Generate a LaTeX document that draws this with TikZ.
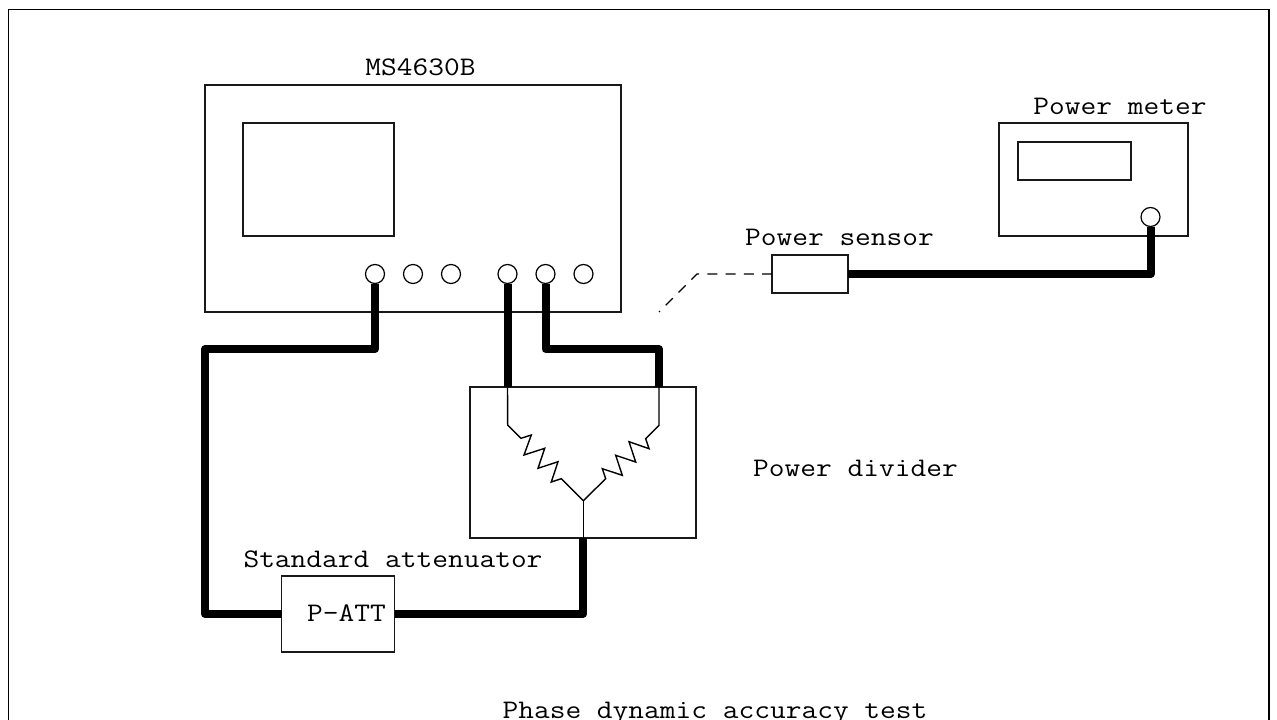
\documentclass[tikz,border=0pt]{standalone}
\usepackage{fontspec}
\newfontfamily\lblfont[FakeStretch=1.14]{Latin Modern Mono}
\tikzset{
  box/.style={draw=black!90,line width=1.2pt,rectangle,inner sep=0pt,outer sep=0pt},
  port/.style={draw=black,fill=white,line width=1.2pt,circle,inner sep=0pt,outer sep=0pt,minimum size=19pt},
  cable/.style={draw=black,line width=8pt,line join=round,line cap=butt},
  wire/.style={draw=black,line width=1.4pt,line join=miter},
  probe/.style={draw=black,line width=1.1pt,dash pattern=on 10pt off 8.2pt},
  lbl/.style={inner sep=0pt,outer sep=0pt,anchor=base,font=\lblfont\fontsize{26.8pt}{27pt}\selectfont,text=black}
}
\begin{document}
\begin{tikzpicture}[x=1pt,y=-1pt]
\useasboundingbox (0,0) rectangle (1277,720);
\fill[white] (0,0) rectangle (1277,720);
% frame (its bottom edge lies outside the picture)
\draw[line width=1.2pt,draw=black] (8.5,725) -- (8.5,9.5) -- (1269,9.5) -- (1269,725);
% instruments
\node[box,minimum width=416pt,minimum height=227pt] (ms) at (413,198.5) {};
\node[box,minimum width=151pt,minimum height=113pt] (screen) at (318.5,179.5) {};
\node[box,minimum width=189pt,minimum height=113pt] (meter) at (1093.5,179.5) {};
\node[box,minimum width=113pt,minimum height=38pt] (display) at (1074.5,161) {};
\node[box,minimum width=76pt,minimum height=38pt] (sensor) at (810,274) {};
\node[box,minimum width=226pt,minimum height=151pt] (divider) at (583,462.5) {};
\node[box,minimum width=113pt,minimum height=76pt] (att) at (338,614) {};
% ports
\node[port] (p1) at (375,274) {};
\node[port] (p2) at (413,274) {};
\node[port] (p3) at (451,274) {};
\node[port] (p4) at (507.5,274) {};
\node[port] (p5) at (545.5,274) {};
\node[port] (p6) at (583.5,274) {};
\node[port] (pm) at (1150.5,217) {};
% helper points
\coordinate (c1a) at (375,349);
\coordinate (c1b) at (205,349);
\coordinate (c1c) at (205,614);
\coordinate (c3a) at (545.5,349);
\coordinate (c3b) at (659,349);
\coordinate (in1) at (507.5,387);
\coordinate (in2) at (659,387);
\coordinate (out) at (583.3,538);
\coordinate (c4a) at (583.3,614);
\coordinate (c5a) at (1150.5,274);
\coordinate (d1) at (697,274);
\coordinate (d2) at (659,312);
\coordinate (hub) at (583.3,500.7);
% cables
\draw[cable] (p1.south) -- (c1a) -- (c1b) -- (c1c) -- (att.west);
\draw[cable] (p4.south) -- (in1);
\draw[cable] (p5.south) -- (c3a) -- (c3b) -- (in2);
\draw[cable] (att.east) -- (c4a) -- (out);
\draw[cable] (sensor.east) -- (c5a) -- (pm.south);
% probe path
\draw[probe] (sensor.west) -- (d1) -- (d2);
% resistors
\draw[wire] (in1) -- (507.7,425) -- (521,438.3) -- (531.3,435) -- (524,455) -- (544.7,448.3) -- (538,468.3) -- (558,461.7) -- (551.3,482) -- (561.3,478.7) -- (hub);
\draw[wire] (in2) -- (659,425.3) -- (645.7,438.7) -- (649,448.7) -- (629,441.7) -- (635.7,462) -- (615.7,455.3) -- (622.3,475.3) -- (602.3,468.7) -- (605.7,478.7) -- (hub);
\draw[wire] (hub) -- (out);
% labels
\node[lbl] (t1) at (420.5,75) {MS4630B};
\node[lbl] (t2) at (1120,114) {Power meter};
\node[lbl] (t3) at (839.5,245) {Power sensor};
\node[lbl] (t4) at (855.5,476) {Power divider};
\node[lbl] (t5) at (393,567) {Standard attenuator};
\node[lbl] (t6) at (346.5,621) {P-ATT};
\node[lbl] (t7) at (715,718) {Phase dynamic accuracy test};
\end{tikzpicture}
\end{document}
